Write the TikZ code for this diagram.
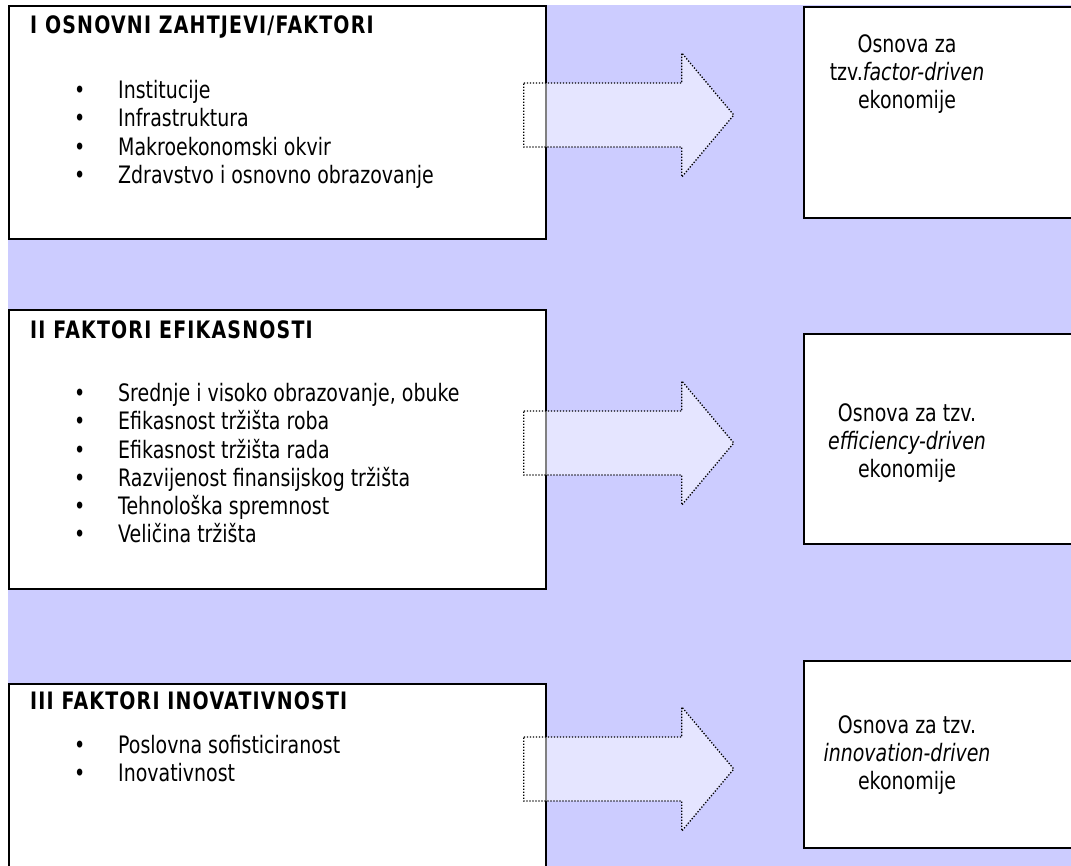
\documentclass[tikz,border=0pt]{standalone}
\usepackage{fontspec}
\setmainfont{DejaVu Sans}[FakeStretch=0.79]
\usetikzlibrary{positioning, calc}
\definecolor{lavanda}{HTML}{CCCCFF}
\newcommand{\stavka}[1]{\makebox[44pt][l]{\textbullet}#1}

\begin{document}
\begin{tikzpicture}[
  x=1pt, y=-1pt,
  font=\fontsize{24}{28.3}\selectfont,
  faktor/.style={draw, line width=1.8pt, fill=white, anchor=north west,
                 minimum width=537pt, inner sep=0pt},
  ishod/.style={draw, line width=1.8pt, fill=white, anchor=north west,
                minimum width=290pt, inner sep=0pt},
  naslov/.style={inner sep=0pt,
                 font=\fontsize{24}{28.3}\selectfont\bfseries\addfontfeature{LetterSpace=5}},
  lista/.style={inner sep=0pt, align=left},
  opis/.style={inner sep=0pt, align=center},
  strelica/.style={draw=black, dash pattern=on 1.3pt off 1.7pt, line width=1.3pt,
                   fill=white, fill opacity=0.5},
]

\clip (0,0) rectangle (1071,865);
\fill[lavanda] (8,5) rectangle (1080,870);

\node[faktor, minimum height=233pt] (osnovni) at (8,5) {};
\node[faktor, minimum height=279pt] (efikasnost) at (8,309) {};
\node[faktor, minimum height=200pt] (inovacije) at (8,683) {};

\node[naslov, below right=10pt and 22pt of osnovni.north west] (osnovniN)
    {I OSNOVNI ZAHTJEVI/FAKTORI};
\node[lista, below right=75pt and 66pt of osnovni.north west] (osnovniL)
    {\stavka{Institucije}\\ \stavka{Infrastruktura}\\
     \stavka{Makroekonomski okvir}\\ \stavka{Zdravstvo i osnovno obrazovanje}};

\node[naslov, below right=11pt and 22pt of efikasnost.north west] (efikasnostN)
    {II FAKTORI EFIKASNOSTI};
\node[lista, below right=74pt and 66pt of efikasnost.north west] (efikasnostL)
    {\stavka{Srednje i visoko obrazovanje, obuke}\\ \stavka{Efikasnost tržišta roba}\\
     \stavka{Efikasnost tržišta rada}\\ \stavka{Razvijenost finansijskog tržišta}\\
     \stavka{Tehnološka spremnost}\\ \stavka{Veličina tržišta}};

\node[naslov, below right=8pt and 22pt of inovacije.north west] (inovacijeN)
    {III FAKTORI INOVATIVNOSTI};
\node[lista, below right=52pt and 66pt of inovacije.north west] (inovacijeL)
    {\stavka{Poslovna sofisticiranost}\\ \stavka{Inovativnost}};

\node[ishod, minimum height=211pt] (factorI) at (803,6) {};
\node[opis] (factorT) at ($(factorI.north west)+(104,68)$)
    {Osnova za\\ tzv.\textit{factor-driven}\\ ekonomije};
\node[ishod, minimum height=210pt] (efficiencyI) at (803,333) {};
\node[opis] (efficiencyT) at ($(efficiencyI.north west)+(104,110)$)
    {Osnova za tzv.\\ \textit{efficiency-driven}\\ ekonomije};
\node[ishod, minimum height=187pt] (innovationI) at (803,660) {};
\node[opis] (innovationT) at ($(innovationI.north west)+(104,95)$)
    {Osnova za tzv.\\ \textit{innovation-driven}\\ ekonomije};

\draw[strelica] ($(osnovni.north east)+(-23,78)$) -- ++(158,0) -- ++(0,-30)
    -- ++(52,62) -- ++(-52,62) -- ++(0,-30) -- ++(-158,0) -- cycle;
\draw[strelica] ($(efikasnost.north east)+(-23,102)$) -- ++(158,0) -- ++(0,-30)
    -- ++(52,62) -- ++(-52,62) -- ++(0,-30) -- ++(-158,0) -- cycle;
\draw[strelica] ($(inovacije.north east)+(-23,54)$) -- ++(158,0) -- ++(0,-30)
    -- ++(52,62) -- ++(-52,62) -- ++(0,-30) -- ++(-158,0) -- cycle;

\end{tikzpicture}
\end{document}
